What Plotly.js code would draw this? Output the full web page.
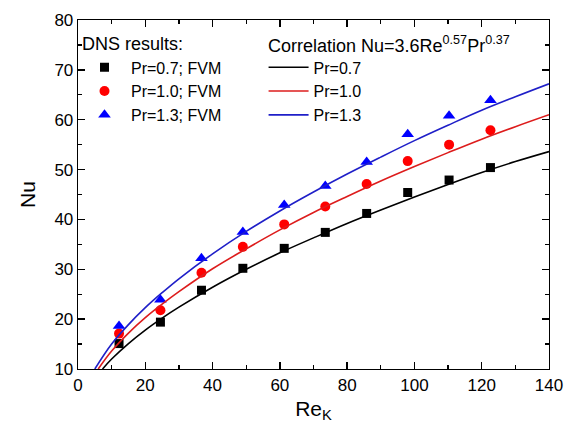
<!DOCTYPE html>
<html>
<head>
<meta charset="utf-8">
<script src="https://cdn.plot.ly/plotly-3.0.1.min.js"></script>
<style>html,body{margin:0;padding:0;background:#fff;}#chart{width:570px;height:430px;}</style>
</head>
<body>
<div id="chart"></div>
<script>
// DNS data (Re_K, Nu)
const reK = [12.2, 24.5, 36.7, 49.0, 61.3, 73.5, 85.8, 98.0, 110.3, 122.6];
const nuPr07 = [15.1, 19.4, 25.8, 30.2, 34.2, 37.4, 41.2, 45.4, 47.9, 50.4];
const nuPr10 = [17.1, 21.8, 29.3, 34.5, 39.0, 42.6, 47.1, 51.7, 55.0, 57.9];
const nuPr13 = [18.6, 23.9, 32.2, 37.5, 42.9, 46.7, 51.5, 57.1, 60.8, 63.9];

// Correlation curves
const corrX07 = [7.3, 10, 15, 20, 25, 30, 40, 50, 60, 70, 80, 90, 100, 110, 120, 130, 140];
const corrY07 = [10, 12.0, 15.1, 17.8, 20.2, 22.4, 26.4, 30.0, 33.3, 36.3, 39.2, 41.9, 44.5, 47.0, 49.4, 51.6, 53.6];
const corrX10 = [6, 10, 15, 20, 25, 30, 40, 50, 60, 70, 80, 90, 100, 110, 120, 130, 140];
const corrY10 = [10, 13.6, 17.2, 20.3, 23.0, 25.5, 30.1, 34.1, 37.9, 41.4, 44.6, 47.7, 50.6, 53.4, 56.1, 58.6, 61.0];
const corrX13 = [5, 10, 15, 20, 25, 30, 40, 50, 60, 70, 80, 90, 100, 110, 120, 130, 140];
const corrY13 = [10, 15.0, 18.9, 22.3, 25.3, 28.1, 33.1, 37.6, 41.7, 45.5, 49.1, 52.5, 55.8, 58.9, 61.9, 64.6, 67.2];

const dnsNames = ['Pr=0.7; FVM', 'Pr=1.0; FVM', 'Pr=1.3; FVM'];
const corrNames = ['Pr=0.7', 'Pr=1.0', 'Pr=1.3'];
const dnsHeader = 'DNS results:';
const corrHeader = 'Correlation Nu=3.6Re<sup>0.57</sup>Pr<sup>0.37</sup>';

const F = 'Arial, "Liberation Sans", sans-serif';

const traces = [
  {x: reK, y: nuPr07, mode: 'markers', name: dnsNames[0], legend: 'legend',
   marker: {symbol: 'square', size: 9, color: '#000000'}},
  {x: reK, y: nuPr10, mode: 'markers', name: dnsNames[1], legend: 'legend',
   marker: {symbol: 'circle', size: 10, color: '#ff0000'}},
  {x: reK, y: nuPr13, mode: 'markers', name: dnsNames[2], legend: 'legend',
   marker: {symbol: 'triangle-up', size: 11, color: '#0000ff'}},
  {x: corrX07, y: corrY07, mode: 'lines', name: corrNames[0], legend: 'legend2',
   line: {color: '#000000', width: 1.6, shape: 'spline'}},
  {x: corrX10, y: corrY10, mode: 'lines', name: corrNames[1], legend: 'legend2',
   line: {color: '#dd1c1c', width: 1.6, shape: 'spline'}},
  {x: corrX13, y: corrY13, mode: 'lines', name: corrNames[2], legend: 'legend2',
   line: {color: '#1f1fc8', width: 1.6, shape: 'spline'}}
];

const axisCommon = {
  showgrid: false, zeroline: false, showline: true, linecolor: '#000', linewidth: 1.3,
  mirror: 'ticks', ticks: 'inside', ticklen: 7, tickwidth: 1.3, tickcolor: '#000',
  tickfont: {family: F, size: 17, color: '#000'},
  minor: {ticks: 'inside', ticklen: 4, tickwidth: 1.2, tickcolor: '#000'}
};

const layout = {
  width: 570, height: 430,
  margin: {l: 78, r: 21, t: 20, b: 61},
  paper_bgcolor: '#fff', plot_bgcolor: '#fff',
  font: {family: F, color: '#000'},
  showlegend: true,
  xaxis: Object.assign({}, axisCommon, {
    range: [0, 140], dtick: 20, tick0: 0,
    minor: Object.assign({}, axisCommon.minor, {dtick: 10}),
    title: {text: 'Re<sub>K</sub>', font: {family: F, size: 21, color: '#000'}, standoff: 7}
  }),
  yaxis: Object.assign({}, axisCommon, {
    range: [10, 80], dtick: 10, tick0: 0,
    minor: Object.assign({}, axisCommon.minor, {dtick: 5}),
    title: {text: 'Nu', font: {family: F, size: 21, color: '#000'}, standoff: 13}
  }),
  legend: {
    x: 0.0, y: 0.913, xanchor: 'left', yanchor: 'top',
    bgcolor: 'rgba(0,0,0,0)', borderwidth: 0,
    font: {family: F, size: 16, color: '#000'},
    tracegroupgap: 0, itemwidth: 43
  },
  legend2: {
    x: 0.394, y: 0.913, xanchor: 'left', yanchor: 'top',
    bgcolor: 'rgba(0,0,0,0)', borderwidth: 0,
    font: {family: F, size: 16, color: '#000'},
    tracegroupgap: 0, itemwidth: 40
  },
  annotations: [
    {xref: 'paper', yref: 'paper', x: 0.004, y: 0.93, xanchor: 'left', yanchor: 'middle',
     showarrow: false, text: dnsHeader, font: {family: F, size: 18, color: '#000'}},
    {xref: 'paper', yref: 'paper', x: 0.4, y: 0.93, xanchor: 'left', yanchor: 'middle',
     showarrow: false, text: corrHeader, font: {family: F, size: 18, color: '#000'}}
  ]
};

Plotly.newPlot('chart', traces, layout, {displayModeBar: false, staticPlot: true});
</script>
</body>
</html>
